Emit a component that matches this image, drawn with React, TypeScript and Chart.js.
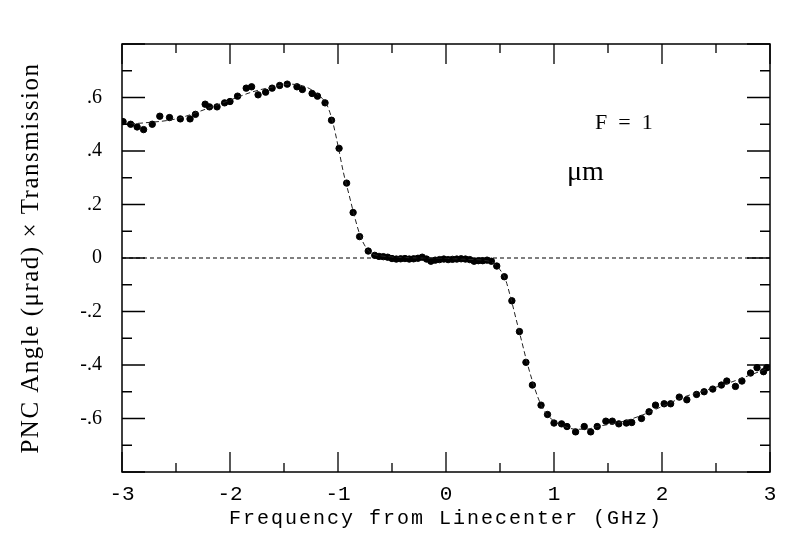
import React, { useEffect, useRef } from "react";
import { Chart, registerables } from "chart.js";

Chart.register(...registerables);

// Measured points: frequency from linecenter (GHz)
const freq = [
  -2.99, -2.92, -2.86, -2.80, -2.72, -2.65, -2.56, -2.46, -2.37, -2.32,
  -2.23, -2.19, -2.12, -2.05, -2.00, -1.93, -1.85, -1.80, -1.74, -1.67,
  -1.61, -1.54, -1.47, -1.38, -1.33, -1.24, -1.19, -1.12, -1.06, -0.99,
  -0.92, -0.86, -0.80, -0.72, -0.66, -0.62, -0.58, -0.54, -0.50, -0.46,
  -0.42, -0.38, -0.34, -0.30, -0.26, -0.22, -0.18, -0.14, -0.10, -0.06,
  -0.02, 0.02, 0.06, 0.10, 0.14, 0.18, 0.22, 0.26, 0.30, 0.34,
  0.38, 0.42, 0.47, 0.54, 0.61, 0.68, 0.74, 0.80, 0.88, 0.94,
  1.00, 1.07, 1.12, 1.20, 1.28, 1.34, 1.40, 1.48, 1.54, 1.60,
  1.67, 1.72, 1.81, 1.88, 1.94, 2.02, 2.08, 2.16, 2.23, 2.32,
  2.39, 2.47, 2.55, 2.60, 2.68, 2.74, 2.82, 2.88, 2.94, 2.97,
];
// Measured points: PNC angle (µrad) x transmission
const angle = [
  0.51, 0.50, 0.49, 0.48, 0.50, 0.53, 0.525, 0.52, 0.52, 0.537,
  0.575, 0.565, 0.565, 0.58, 0.585, 0.605, 0.635, 0.64, 0.61, 0.62,
  0.635, 0.645, 0.65, 0.64, 0.63, 0.615, 0.605, 0.58, 0.515, 0.41,
  0.28, 0.17, 0.08, 0.026, 0.010, 0.006, 0.005, 0.003, -0.002, -0.004,
  -0.003, -0.002, -0.004, -0.003, -0.001, 0.003, -0.004, -0.012, -0.008, -0.006,
  -0.004, -0.006, -0.005, -0.004, -0.003, -0.004, -0.006, -0.012, -0.010, -0.010,
  -0.008, -0.012, -0.03, -0.07, -0.16, -0.275, -0.39, -0.475, -0.55, -0.585,
  -0.617, -0.62, -0.63, -0.65, -0.63, -0.65, -0.63, -0.61, -0.61, -0.62,
  -0.617, -0.615, -0.60, -0.575, -0.55, -0.545, -0.545, -0.52, -0.53, -0.51,
  -0.50, -0.49, -0.475, -0.46, -0.48, -0.46, -0.43, -0.41, -0.425, -0.41,
];

// Fitted curve
const fitFreq = [
  -3.0, -2.8, -2.5, -2.2, -2.0, -1.8, -1.6, -1.45, -1.3, -1.2,
  -1.1, -1.05, -1.0, -0.95, -0.9, -0.85, -0.8, -0.75, -0.7, -0.6,
  -0.4, 0.0, 0.2, 0.4, 0.47, 0.55, 0.6, 0.65, 0.7, 0.75,
  0.8, 0.85, 0.9, 1.0, 1.1, 1.2, 1.3, 1.4, 1.6, 1.8,
  2.0, 2.2, 2.4, 2.6, 2.8, 3.0,
];
const fitAngle = [
  0.50, 0.505, 0.52, 0.56, 0.59, 0.62, 0.64, 0.65, 0.64, 0.615,
  0.57, 0.51, 0.42, 0.32, 0.24, 0.16, 0.09, 0.045, 0.02, 0.008,
  0.002, -0.002, -0.005, -0.012, -0.03, -0.08, -0.15, -0.23, -0.31, -0.39,
  -0.46, -0.52, -0.565, -0.61, -0.63, -0.64, -0.64, -0.63, -0.615, -0.59,
  -0.555, -0.52, -0.495, -0.47, -0.44, -0.41,
];

const zeroFreq = [-3, 3];
const zeroAngle = [0, 0];

const xTickValues = [-3, -2, -1, 0, 1, 2, 3];
const xTickLabels = ["-3", "-2", "-1", "0", "1", "2", "3"];
const yTickValues = [0.6, 0.4, 0.2, 0, -0.2, -0.4, -0.6];
const yTickLabels = [".6", ".4", ".2", "0", "-.2", "-.4", "-.6"];

const xTitle = "Frequency from Linecenter (GHz)";
const yTitle = "PNC Angle (\u03bcrad) \u00d7 Transmission";
const noteF = "F  =  1";
const noteUnit = "\u03bcm";

const lookup = (vals: number[], labels: string[], v: number) => {
  for (let i = 0; i < vals.length; i++) {
    if (Math.abs(vals[i] - v) < 1e-6) return labels[i];
  }
  return "";
};

const framePlugin = {
  id: "framePlugin",
  afterDatasetsDraw(chart: any) {
    const { ctx, chartArea: a, scales } = chart;
    const xs = scales.x;
    const ys = scales.y;
    ctx.save();
    ctx.strokeStyle = "#000";
    ctx.lineWidth = 1.5;
    ctx.strokeRect(a.left, a.top, a.right - a.left, a.bottom - a.top);

    ctx.lineWidth = 1.3;
    // x ticks every 0.5, major on integers
    for (let i = -6; i <= 6; i++) {
      const v = i / 2;
      const px = xs.getPixelForValue(v);
      const len = i % 2 === 0 ? 20 : 9;
      ctx.beginPath();
      ctx.moveTo(px, a.bottom);
      ctx.lineTo(px, a.bottom - len);
      ctx.moveTo(px, a.top);
      ctx.lineTo(px, a.top + len);
      ctx.stroke();
    }
    // y ticks every 0.1, major on 0.2
    for (let i = -8; i <= 8; i++) {
      const v = i / 10;
      const py = ys.getPixelForValue(v);
      const len = i % 2 === 0 ? 23 : 10;
      ctx.beginPath();
      ctx.moveTo(a.left, py);
      ctx.lineTo(a.left + len, py);
      ctx.moveTo(a.right, py);
      ctx.lineTo(a.right - len, py);
      ctx.stroke();
    }

    ctx.fillStyle = "#000";
    // x title
    ctx.font = "20px 'Liberation Mono', monospace";
    (ctx as any).letterSpacing = "2px";
    ctx.textAlign = "center";
    ctx.textBaseline = "alphabetic";
    ctx.fillText(xTitle, (a.left + a.right) / 2, a.bottom + 52);

    // y title
    ctx.font = "25px 'Liberation Serif', serif";
    (ctx as any).letterSpacing = "1.5px";
    ctx.save();
    ctx.translate(a.left - 84, (a.top + a.bottom) / 2);
    ctx.rotate(-Math.PI / 2);
    ctx.fillText(yTitle, 0, 0);
    ctx.restore();
    (ctx as any).letterSpacing = "0px";

    // annotations
    ctx.textAlign = "left";
    ctx.textBaseline = "middle";
    ctx.font = "22px 'Liberation Serif', serif";
    ctx.fillText(noteF, xs.getPixelForValue(1.38), ys.getPixelForValue(0.505));
    ctx.font = "28px 'Liberation Serif', serif";
    ctx.fillText(noteUnit, xs.getPixelForValue(1.12), ys.getPixelForValue(0.32));
    ctx.restore();
  },
};

export default function App() {
  const ref = useRef<HTMLCanvasElement | null>(null);
  useEffect(() => {
    document.body.style.margin = "0";
    if (!ref.current) return;
    const points = freq.map((f, i) => ({ x: f, y: angle[i] }));
    const fit = fitFreq.map((f, i) => ({ x: f, y: fitAngle[i] }));
    const zero = zeroFreq.map((f, i) => ({ x: f, y: zeroAngle[i] }));
    const chart = new Chart(ref.current, {
      type: "scatter",
      data: {
        datasets: [
          {
            data: zero,
            showLine: true,
            borderColor: "#000",
            borderWidth: 1.2,
            borderDash: [4, 3],
            pointRadius: 0,
          },
          {
            data: fit,
            showLine: true,
            borderColor: "#222",
            borderWidth: 1,
            borderDash: [5, 3],
            pointRadius: 0,
            cubicInterpolationMode: "monotone",
          } as any,
          {
            data: points,
            showLine: false,
            backgroundColor: "#000",
            borderColor: "#000",
            pointRadius: 3.2,
            pointStyle: "circle",
          },
        ],
      },
      options: {
        responsive: false,
        animation: false,
        layout: { padding: { left: 0, top: 44, right: 23, bottom: 0 } },
        plugins: {
          legend: { display: false },
          tooltip: { enabled: false },
          title: { display: false },
        },
        scales: {
          x: {
            type: "linear",
            min: -3,
            max: 3,
            grid: { display: false },
            border: { display: false },
            afterFit: (s: any) => {
              s.height = 73;
            },
            ticks: {
              stepSize: 0.5,
              autoSkip: false,
              maxRotation: 0,
              padding: 2,
              color: "#000",
              font: { family: "'Liberation Mono', monospace", size: 21 },
              callback: (v: any) => lookup(xTickValues, xTickLabels, Number(v)),
            },
          },
          y: {
            type: "linear",
            min: -0.8,
            max: 0.8,
            grid: { display: false },
            border: { display: false },
            afterFit: (s: any) => {
              s.width = 122;
            },
            ticks: {
              stepSize: 0.1,
              autoSkip: false,
              padding: 12,
              color: "#000",
              font: { family: "'Liberation Serif', serif", size: 20 },
              callback: (v: any) => lookup(yTickValues, yTickLabels, Number(v)),
            },
          },
        },
      },
      plugins: [framePlugin],
    });
    return () => chart.destroy();
  }, []);
  return (
    <div style={{ width: 793, height: 545 }}>
      <canvas ref={ref} width={793} height={545} style={{ display: "block" }} />
    </div>
  );
}
